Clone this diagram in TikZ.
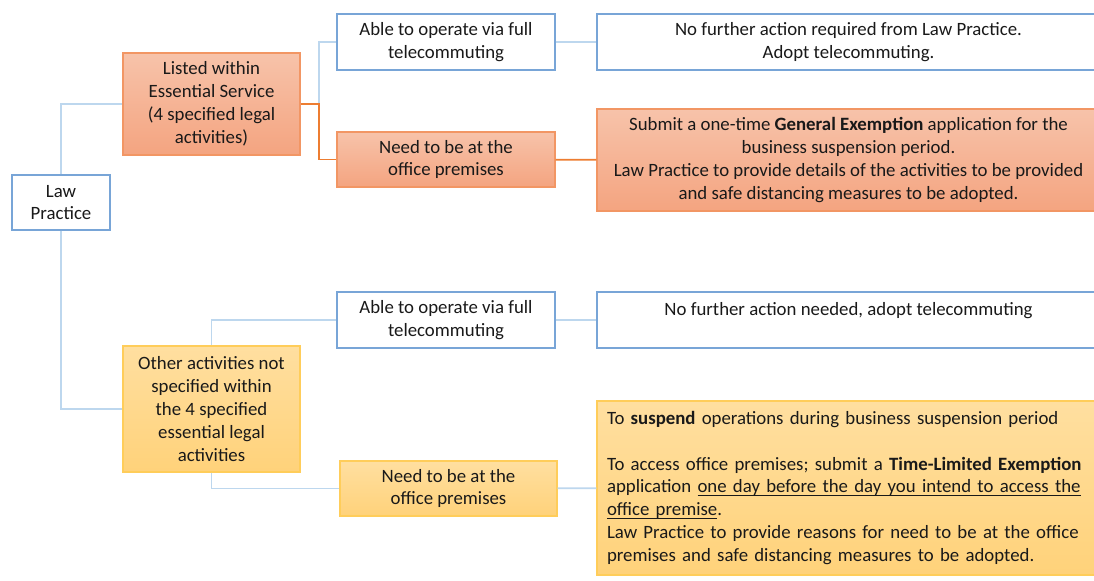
\documentclass[tikz,border=0pt]{standalone}
\usepackage{fontspec}
\setmainfont{Carlito}
\newcommand{\undl}[1]{\leavevmode\setbox0\hbox{#1}\rlap{\rule[-1.8pt]{\wd0}{0.5pt}}\box0}
\definecolor{boxblue}{RGB}{120,165,215}
\definecolor{linkblue}{RGB}{189,215,238}
\definecolor{esstop}{RGB}{247,195,170}
\definecolor{essbot}{RGB}{244,164,128}
\definecolor{essline}{RGB}{242,150,100}
\definecolor{linkorange}{RGB}{237,125,49}
\definecolor{othtop}{RGB}{255,223,160}
\definecolor{othbot}{RGB}{255,210,122}
\definecolor{othline}{RGB}{255,205,90}
\begin{document}
\begin{tikzpicture}[
  every node/.style={font=\fontsize{10.7}{13}\selectfont, text=black!90, inner sep=0pt, align=center},
  plainbox/.style={draw=boxblue, fill=white, line width=0.8pt, shape=rectangle},
  essbox/.style={draw=essline, top color=esstop, bottom color=essbot, line width=0.6pt, shape=rectangle},
  othbox/.style={draw=othline, top color=othtop, bottom color=othbot, line width=0.6pt, shape=rectangle},
  bluelink/.style={draw=linkblue, line width=1pt},
  orangelink/.style={draw=linkorange, line width=1pt}]
\clip (0,0) rectangle (21.88,-11.6);
\fill[white] (0,0) rectangle (21.88,-11.6);
% left column
\node[plainbox,minimum width=1.96cm,minimum height=1.10cm](law) at (1.22,-4.05){Law\\Practice};
\node[essbox,minimum width=3.54cm,minimum height=2.04cm](listed) at (4.23,-2.08){Listed within\\Essential Service\\(4 specified legal\\activities)};
\node[othbox,minimum width=3.54cm,minimum height=2.52cm](other) at (4.23,-8.18){Other activities not\\specified within\\the 4 specified\\essential legal\\activities};
% middle column
\node[plainbox,minimum width=4.36cm,minimum height=1.12cm](able1) at (8.92,-0.84){Able to operate via full\\telecommuting};
\node[essbox,minimum width=4.36cm,minimum height=1.10cm](need1) at (8.92,-3.19){Need to be at the\\office premises};
\node[plainbox,minimum width=4.36cm,minimum height=1.12cm](able2) at (8.92,-6.40){Able to operate via full\\telecommuting};
\node[othbox,minimum width=4.34cm,minimum height=1.10cm](need2) at (8.97,-9.77){Need to be at the\\office premises};
% right column
\node[plainbox,minimum width=10.06cm,minimum height=1.12cm](done1) at (16.97,-0.84){No further action required from Law Practice.\\Adopt telecommuting.};
\node[essbox,minimum width=10.06cm,minimum height=2.04cm](general) at (16.97,-3.20){Submit a one-time \textbf{General Exemption} application for the\\business suspension period.\\Law Practice to provide details of the activities to be provided\\and safe distancing measures to be adopted.};
\node[plainbox,minimum width=10.06cm,minimum height=1.12cm](done2) at (16.97,-6.40){No further action needed, adopt telecommuting\\\mbox{}};
\node[othbox,minimum width=10.06cm,minimum height=3.48cm,align=left,text width=9.66cm](suspend) at (16.97,-9.76){To \textbf{suspend} operations during business suspension period\\[13pt]To access office premises; submit a \textbf{Time-Limited Exemption}\\application \undl{one day before the day you intend to access the}\\\undl{office premise}.\\Law Practice to provide reasons for need to be at the office\\premises and safe distancing measures to be adopted.};
% connectors
\coordinate (fork) at (6.38,-2.08);
\draw[bluelink] (law.north) |- (listed.west);
\draw[bluelink] (law.south) |- (other.west);
\draw[bluelink] (fork) |- (able1.west);
\draw[orangelink] (listed.east) -- (fork) |- (need1.west);
\draw[bluelink] (other.north) |- (able2.west);
\draw[bluelink] (other.south) |- (need2.west);
\draw[bluelink] (able1) -- (done1);
\draw[orangelink] (need1) -- (general);
\draw[bluelink] (able2) -- (done2);
\draw[bluelink] (need2) -- (suspend);
\end{tikzpicture}
\end{document}
